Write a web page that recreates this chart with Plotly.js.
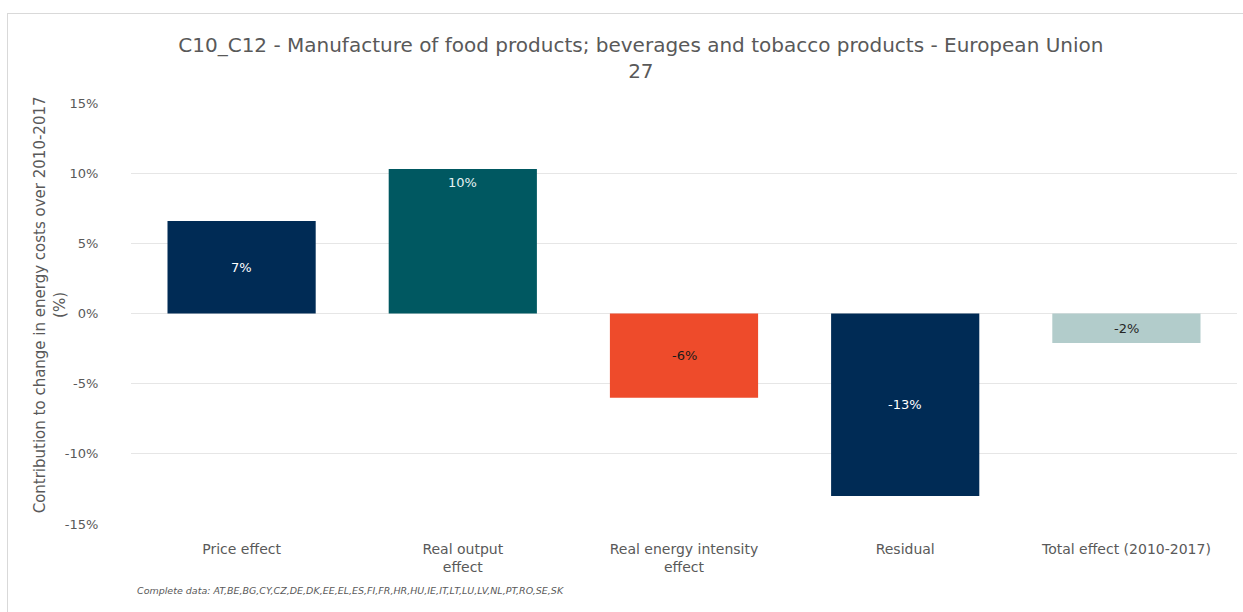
<!DOCTYPE html>
<html>
<head>
<meta charset="utf-8">
<script src="https://cdn.plot.ly/plotly-3.0.1.min.js"></script>
<style>
  html, body { margin: 0; padding: 0; background: #ffffff; overflow: hidden; }
  #wrap { position: relative; width: 1243px; height: 612px; }
  #chart { width: 1243px; height: 612px; }
  #frame { position: absolute; left: 7px; top: 13px; width: 1260px; height: 640px;
           border: 1px solid #d9d9d9; box-sizing: border-box; pointer-events: none; }
</style>
</head>
<body>
<div id="wrap">
  <div id="chart"></div>
  <div id="frame"></div>
</div>
<script>
// ---- data ----
const categories = ["Price effect", "Real output<br>effect", "Real energy intensity<br>effect", "Residual", "Total effect (2010-2017)"];
const values = [6.6, 10.3, -6.0, -13.0, -2.1];
const valueLabels = ["7%", "10%", "-6%", "-13%", "-2%"];
const barColors = ["#002b55", "#005861", "#ee4b2b", "#002b55", "#b2cccb"];
const labelColors = ["#ffffff", "#e6f2f2", "#1a1a1a", "#ffffff", "#262626"];
const labelAtTop = [false, true, false, false, false];
const yTickVals = [-15, -10, -5, 0, 5, 10, 15];
const yTickText = ["-15%", "-10%", "-5%", "0%", "5%", "10%", "15%"];
const titleText = "C10_C12 - Manufacture of food products; beverages and tobacco products - European Union<br>27";
const yTitleText = "Contribution to change in energy costs over 2010-2017<br>(%)";
const footnote = "Complete data: AT,BE,BG,CY,CZ,DE,DK,EE,EL,ES,FI,FR,HR,HU,IE,IT,LT,LU,LV,NL,PT,RO,SE,SK";

const FONT = "DejaVu Sans, Verdana, sans-serif";
const GREY = "#595959";

const trace = {
  type: "bar",
  x: categories,
  y: values,
  marker: { color: barColors, line: { width: 0 } },
  width: 0.67,
  hoverinfo: "x+y",
  textposition: "none"
};

const annotations = categories.map((c, i) => ({
  x: c,
  y: labelAtTop[i] ? values[i] : values[i] / 2,
  xref: "x", yref: "y",
  text: valueLabels[i],
  showarrow: false,
  yanchor: labelAtTop[i] ? "top" : "middle",
  yshift: labelAtTop[i] ? -4 : 0,
  font: { family: FONT, size: 13, color: labelColors[i] }
}));

// y-axis title (placed as rotated text for exact position)
annotations.push({
  xref: "paper", yref: "paper",
  x: -0.073, y: 0.52,
  xanchor: "center", yanchor: "middle",
  textangle: -90,
  text: yTitleText,
  showarrow: false,
  font: { family: FONT, size: 15, color: GREY }
});

annotations.push({
  xref: "paper", yref: "paper",
  x: 0.004, y: -0.158,
  xanchor: "left", yanchor: "middle",
  text: "<i>" + footnote + "</i>",
  showarrow: false,
  font: { family: FONT, size: 9.5, color: GREY }
});

const layout = {
  width: 1243, height: 612,
  margin: { l: 131, r: 6, t: 103, b: 88, pad: 0 },
  paper_bgcolor: "rgba(0,0,0,0)",
  plot_bgcolor: "#ffffff",
  showlegend: false,
  title: {
    text: titleText,
    font: { family: FONT, size: 20, color: GREY },
    x: 0.461, xanchor: "center",
    xref: "paper",
    y: 0.915, yanchor: "middle"
  },
  xaxis: {
    type: "category",
    showgrid: false,
    zeroline: false,
    showline: false,
    ticks: "outside", ticklen: 12, tickcolor: "rgba(0,0,0,0)",
    tickfont: { family: FONT, size: 14, color: GREY },
    fixedrange: true
  },
  yaxis: {
    range: [-15, 15],
    tickvals: yTickVals,
    ticktext: yTickText,
    showgrid: true,
    gridcolor: "#e6e6e6",
    gridwidth: 1,
    zeroline: false,
    showline: false,
    ticks: "outside", ticklen: 29, tickcolor: "rgba(0,0,0,0)",
    tickfont: { family: FONT, size: 13, color: GREY },
    automargin: false,
    fixedrange: true
  },
  annotations: annotations,
  bargap: 0.33
};

Plotly.newPlot("chart", [trace], layout, { displayModeBar: false, staticPlot: true });
</script>
</body>
</html>
